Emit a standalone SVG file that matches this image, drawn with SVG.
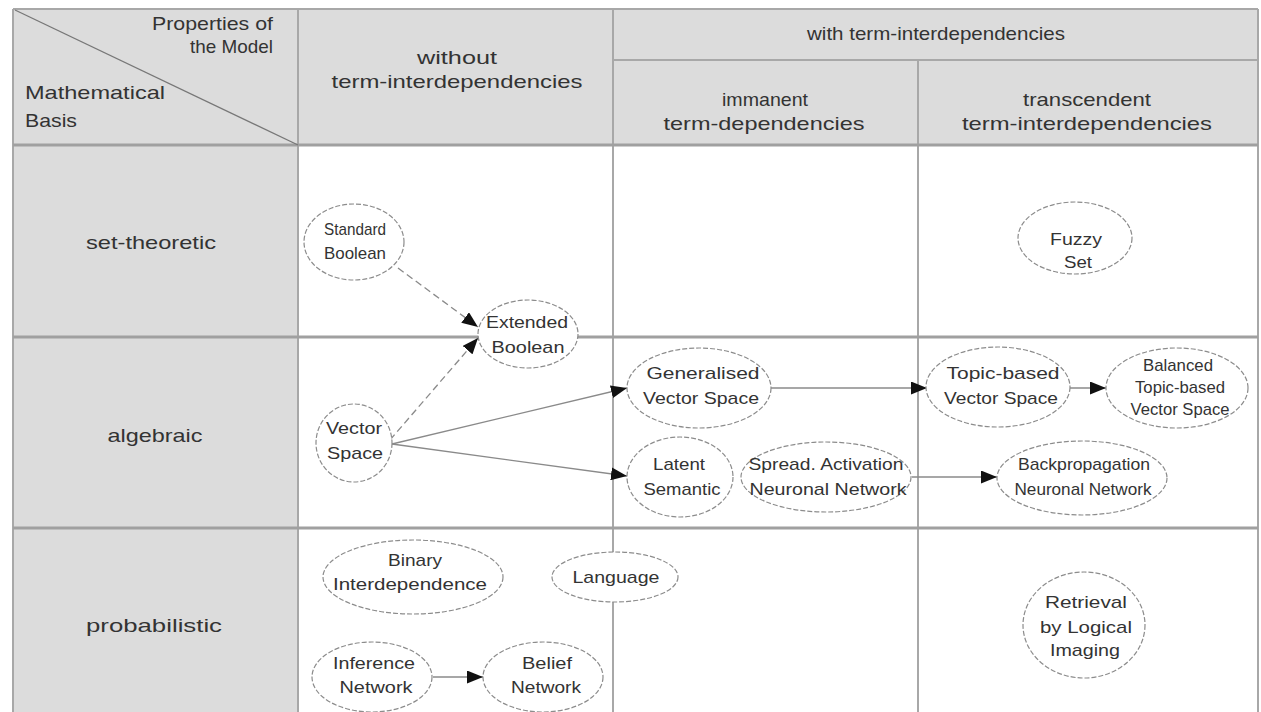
<svg xmlns="http://www.w3.org/2000/svg" width="1261" height="712" viewBox="0 0 1261 712">
<style>
.bg{fill:#dcdcdc}
.grid{stroke:#a8a8a8;stroke-width:2;fill:none}
.gridb{stroke:#a0a0a0;stroke-width:3;fill:none}
.h{font-family:"Liberation Sans",Arial,sans-serif;font-size:19px;fill:#333}
.n{font-family:"Liberation Sans",Arial,sans-serif;font-size:17px;fill:#333;text-anchor:middle}
.c{text-anchor:middle}
.node ellipse{fill:#fff;stroke:#8c8c8c;stroke-width:1.2;stroke-dasharray:5 2}
.edge{stroke:#8a8a8a;stroke-width:1.3;fill:none}
.dash{stroke-dasharray:7 4}
</style>
<defs>
<marker id="arr" viewBox="0 0 16 13" refX="16" refY="6.5" markerWidth="16" markerHeight="13" markerUnits="userSpaceOnUse" orient="auto">
<path d="M0,0 L16,6.5 L0,13 z" fill="#111"/>
</marker>
</defs>
<rect width="1261" height="712" fill="#fff"/>
<g id="table">
<rect class="bg" x="13" y="9" width="1245" height="136"/>
<rect class="bg" x="13" y="145" width="285" height="567"/>
<line class="grid" x1="13" y1="9" x2="1258" y2="9"/>
<line class="grid" x1="13" y1="9" x2="13" y2="712"/>
<line class="grid" x1="1258" y1="9" x2="1258" y2="712"/>
<line class="grid" x1="298" y1="9" x2="298" y2="712" stroke="#c8c8c8"/>
<line class="grid" x1="613" y1="9" x2="613" y2="712"/>
<line class="grid" x1="918" y1="60" x2="918" y2="712"/>
<line class="grid" x1="613" y1="60" x2="1258" y2="60"/>
<line class="gridb" x1="13" y1="145" x2="1258" y2="145"/>
<line class="gridb" x1="13" y1="337" x2="1258" y2="337"/>
<line class="gridb" x1="13" y1="528" x2="1258" y2="528"/>
<line x1="15" y1="10" x2="298" y2="145" stroke="#777" stroke-width="1.3"/>
<text class="h" x="273" y="30" text-anchor="end" textLength="121" lengthAdjust="spacingAndGlyphs">Properties of</text>
<text class="h" x="273" y="53" text-anchor="end" textLength="83" lengthAdjust="spacingAndGlyphs">the Model</text>
<text class="h" x="25" y="99" textLength="140" lengthAdjust="spacingAndGlyphs">Mathematical</text>
<text class="h" x="25" y="127" textLength="52" lengthAdjust="spacingAndGlyphs">Basis</text>
<text class="h c" x="457" y="64" textLength="80" lengthAdjust="spacingAndGlyphs">without</text>
<text class="h c" x="457" y="88" textLength="251" lengthAdjust="spacingAndGlyphs">term-interdependencies</text>
<text class="h c" x="936" y="40" textLength="258" lengthAdjust="spacingAndGlyphs">with term-interdependencies</text>
<text class="h c" x="765" y="106" textLength="86" lengthAdjust="spacingAndGlyphs">immanent</text>
<text class="h c" x="764" y="130" textLength="201" lengthAdjust="spacingAndGlyphs">term-dependencies</text>
<text class="h c" x="1087" y="106" textLength="128" lengthAdjust="spacingAndGlyphs">transcendent</text>
<text class="h c" x="1087" y="130" textLength="250" lengthAdjust="spacingAndGlyphs">term-interdependencies</text>
<text class="h c" x="151" y="249" textLength="130" lengthAdjust="spacingAndGlyphs">set-theoretic</text>
<text class="h c" x="155" y="442" textLength="95" lengthAdjust="spacingAndGlyphs">algebraic</text>
<text class="h c" x="154" y="632" textLength="136" lengthAdjust="spacingAndGlyphs">probabilistic</text>
</g>
<g id="connectors">
<line class="edge dash" x1="398" y1="268" x2="478" y2="327" marker-end="url(#arr)"/>
<line class="edge dash" x1="390" y1="440" x2="478" y2="338" marker-end="url(#arr)"/>
<line class="edge" x1="392" y1="444" x2="627" y2="388" marker-end="url(#arr)"/>
<line class="edge" x1="392" y1="444" x2="627" y2="476" marker-end="url(#arr)"/>
<line class="edge" x1="771" y1="388" x2="927" y2="388" marker-end="url(#arr)"/>
<line class="edge" x1="1070" y1="388" x2="1106" y2="388" marker-end="url(#arr)"/>
<line class="edge" x1="912" y1="477" x2="997" y2="477" marker-end="url(#arr)"/>
<line class="edge" x1="433" y1="677" x2="483" y2="677" marker-end="url(#arr)"/>
</g>
<g id="standard-boolean" class="node"><ellipse cx="354" cy="242" rx="50" ry="38"/><text class="n" x="355" y="235" textLength="62" lengthAdjust="spacingAndGlyphs">Standard</text><text class="n" x="355" y="259" textLength="62" lengthAdjust="spacingAndGlyphs">Boolean</text></g>
<g id="extended-boolean" class="node"><ellipse cx="528" cy="334" rx="50" ry="34"/><text class="n" x="527" y="328" textLength="82" lengthAdjust="spacingAndGlyphs">Extended</text><text class="n" x="528" y="353" textLength="73" lengthAdjust="spacingAndGlyphs">Boolean</text></g>
<g id="vector-space" class="node"><ellipse cx="354" cy="443" rx="38" ry="39"/><text class="n" x="354" y="434" textLength="56" lengthAdjust="spacingAndGlyphs">Vector</text><text class="n" x="355" y="459" textLength="56" lengthAdjust="spacingAndGlyphs">Space</text></g>
<g id="generalised-vector-space" class="node"><ellipse cx="699" cy="388" rx="72" ry="40"/><text class="n" x="703" y="379" textLength="113" lengthAdjust="spacingAndGlyphs">Generalised</text><text class="n" x="701" y="404" textLength="116" lengthAdjust="spacingAndGlyphs">Vector Space</text></g>
<g id="topic-based-vector-space" class="node"><ellipse cx="998" cy="387" rx="72" ry="40"/><text class="n" x="1003" y="379" textLength="113" lengthAdjust="spacingAndGlyphs">Topic-based</text><text class="n" x="1001" y="404" textLength="114" lengthAdjust="spacingAndGlyphs">Vector Space</text></g>
<g id="balanced-topic-based" class="node"><ellipse cx="1177" cy="388" rx="71" ry="40"/><text class="n" x="1178" y="371" font-size="15" textLength="70" lengthAdjust="spacingAndGlyphs">Balanced</text><text class="n" x="1180" y="393" font-size="15" textLength="90" lengthAdjust="spacingAndGlyphs">Topic-based</text><text class="n" x="1180" y="415" font-size="15" textLength="99" lengthAdjust="spacingAndGlyphs">Vector Space</text></g>
<g id="latent-semantic" class="node"><ellipse cx="680" cy="477" rx="53" ry="40"/><text class="n" x="679" y="470" textLength="52" lengthAdjust="spacingAndGlyphs">Latent</text><text class="n" x="682" y="495" textLength="77" lengthAdjust="spacingAndGlyphs">Semantic</text></g>
<g id="spread-activation" class="node"><ellipse cx="826" cy="477" rx="85" ry="35"/><text class="n" x="826" y="470" textLength="155" lengthAdjust="spacingAndGlyphs">Spread. Activation</text><text class="n" x="828" y="495" textLength="157" lengthAdjust="spacingAndGlyphs">Neuronal Network</text></g>
<g id="backpropagation" class="node"><ellipse cx="1082" cy="478" rx="85" ry="37"/><text class="n" x="1084" y="470" textLength="132" lengthAdjust="spacingAndGlyphs">Backpropagation</text><text class="n" x="1083" y="495" textLength="137" lengthAdjust="spacingAndGlyphs">Neuronal Network</text></g>
<g id="fuzzy-set" class="node"><ellipse cx="1075" cy="238" rx="57" ry="36"/><text class="n" x="1076" y="245" textLength="52" lengthAdjust="spacingAndGlyphs">Fuzzy</text><text class="n" x="1078" y="268" textLength="28" lengthAdjust="spacingAndGlyphs">Set</text></g>
<g id="binary-interdependence" class="node"><ellipse cx="413" cy="577" rx="90" ry="37"/><text class="n" x="415" y="566" textLength="54" lengthAdjust="spacingAndGlyphs">Binary</text><text class="n" x="410" y="590" textLength="154" lengthAdjust="spacingAndGlyphs">Interdependence</text></g>
<g id="language" class="node"><ellipse cx="615" cy="577" rx="63" ry="25"/><text class="n" x="616" y="583" textLength="87" lengthAdjust="spacingAndGlyphs">Language</text></g>
<g id="inference-network" class="node"><ellipse cx="372" cy="677" rx="60" ry="35"/><text class="n" x="374" y="669" textLength="82" lengthAdjust="spacingAndGlyphs">Inference</text><text class="n" x="376" y="693" textLength="73" lengthAdjust="spacingAndGlyphs">Network</text></g>
<g id="belief-network" class="node"><ellipse cx="543" cy="677" rx="60" ry="35"/><text class="n" x="547" y="669" textLength="50" lengthAdjust="spacingAndGlyphs">Belief</text><text class="n" x="546" y="693" textLength="70" lengthAdjust="spacingAndGlyphs">Network</text></g>
<g id="retrieval-logical-imaging" class="node"><ellipse cx="1084" cy="625" rx="61" ry="53"/><text class="n" x="1086" y="608" textLength="82" lengthAdjust="spacingAndGlyphs">Retrieval</text><text class="n" x="1086" y="633" textLength="92" lengthAdjust="spacingAndGlyphs">by Logical</text><text class="n" x="1085" y="656" textLength="70" lengthAdjust="spacingAndGlyphs">Imaging</text></g>
</svg>
